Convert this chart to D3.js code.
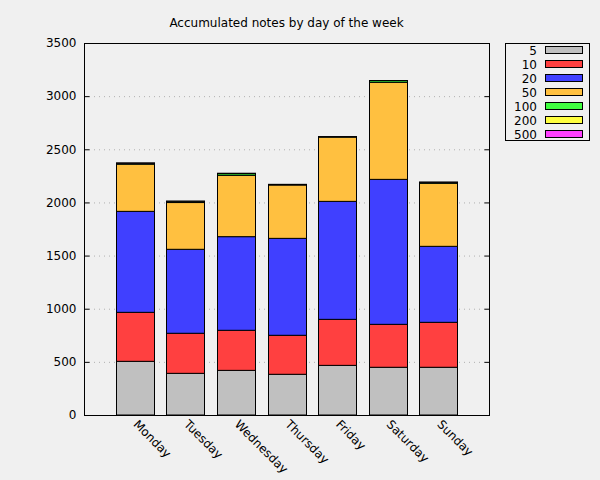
<!DOCTYPE html>
<html><head><meta charset="utf-8">
<script src="https://cdn.jsdelivr.net/npm/d3@7"></script>
<style>body{margin:0;background:#f0f0f0;}svg{display:block;font-family:"DejaVu Sans",sans-serif;}</style>
</head><body>
<script>
const days = ["Monday","Tuesday","Wednesday","Thursday","Friday","Saturday","Sunday"];
const denominations = ["5","10","20","50","100","200","500"];
const colors = ["#c0c0c0","#ff4040","#4040ff","#ffc040","#40ff40","#ffff40","#ff40ff"];
const notes5   = [505, 392, 420, 383, 467, 449, 449];
const notes10  = [461, 377, 377, 367, 433, 404, 423];
const notes20  = [950, 790, 881, 912, 1110, 1364, 715];
const notes50  = [444, 440, 577, 502, 605, 913, 593];
const notes100 = [10, 12, 16, 5, 3, 16, 10];
const notes200 = [0, 0, 2, 0, 0, 0, 0];
const notes500 = [1, 1, 1, 1, 1, 1, 1];
const yTicks = [0,500,1000,1500,2000,2500,3000,3500];
const title = "Accumulated notes by day of the week";

const series = [notes5,notes10,notes20,notes50,notes100,notes200,notes500];
const W=600,H=480, L=84, R=489, T=43, B=415;
const svg = d3.select("body").append("svg").attr("width",W).attr("height",H);
svg.append("rect").attr("width",W).attr("height",H).attr("fill","#f0f0f0");

const x = d3.scalePoint().domain(days).range([L,R]).padding(1);
const y = d3.scaleLinear().domain([0,3500]).range([B,T]);
const bw = x.step()*0.75;

// grid
svg.append("g").selectAll("line").data(yTicks.filter(v=>v>0&&v<3500)).join("line")
  .attr("x1",L).attr("x2",R).attr("y1",d=>y(d)+0.5).attr("y2",d=>y(d)+0.5)
  .attr("stroke","#b0b0b0").attr("stroke-dasharray","1,4").attr("stroke-width",1);

// stacked bars
const rows = days.map((d,i)=>{const o={day:d}; denominations.forEach((k,j)=>o[k]=series[j][i]); return o;});
const stack = d3.stack().keys(denominations)(rows);
stack.forEach((layer,j)=>{
  svg.append("g").selectAll("rect").data(layer).join("rect")
    .attr("x",d=>Math.round(x(d.data.day)-bw/2)+0.5)
    .attr("width",Math.round(bw))
    .attr("y",d=>y(d[1]))
    .attr("height",d=>Math.max(0,y(d[0])-y(d[1])))
    .attr("fill",colors[j]).attr("stroke","#000").attr("stroke-width",1);
});

// frame
svg.append("rect").attr("x",L+0.5).attr("y",T+0.5).attr("width",R-L).attr("height",B-T)
  .attr("fill","none").attr("stroke","#000");

// y axis
const yAxis = d3.axisLeft(y).tickValues(yTicks).tickSize(-5).tickPadding(8).tickFormat(d3.format("d"));
const ga = svg.append("g").attr("transform",`translate(${L+0.5},0)`).call(yAxis);
ga.select(".domain").remove();
ga.selectAll("text").attr("font-size",12).attr("font-family","DejaVu Sans").attr("fill","#000");
const yAxisR = d3.axisRight(y).tickValues(yTicks).tickSize(-5).tickFormat("");
const gr = svg.append("g").attr("transform",`translate(${R+0.5},0)`).call(yAxisR);
gr.select(".domain").remove();

// x labels
svg.append("g").selectAll("text").data(days).join("text")
  .attr("transform",d=>`translate(${x(d)-2},${B+10}) rotate(45)`)
  .attr("font-size",12).attr("text-anchor","start").attr("fill","#000").text(d=>d);

// title
svg.append("text").attr("x",(L+R)/2).attr("y",27).attr("text-anchor","middle")
  .attr("font-size",12).attr("fill","#000").text(title);

// legend
const lg = svg.append("g");
lg.append("rect").attr("x",505.5).attr("y",43.5).attr("width",84).attr("height",97)
  .attr("fill","none").attr("stroke","#000");
denominations.forEach((k,j)=>{
  const cy = 50 + j*14;
  lg.append("text").attr("x",537).attr("y",cy+4.5).attr("text-anchor","end")
    .attr("font-size",12).attr("fill","#000").text(k);
  lg.append("rect").attr("x",545.5).attr("y",cy-3.5).attr("width",37).attr("height",7)
    .attr("fill",colors[j]).attr("stroke","#000");
});
</script>
</body></html>
